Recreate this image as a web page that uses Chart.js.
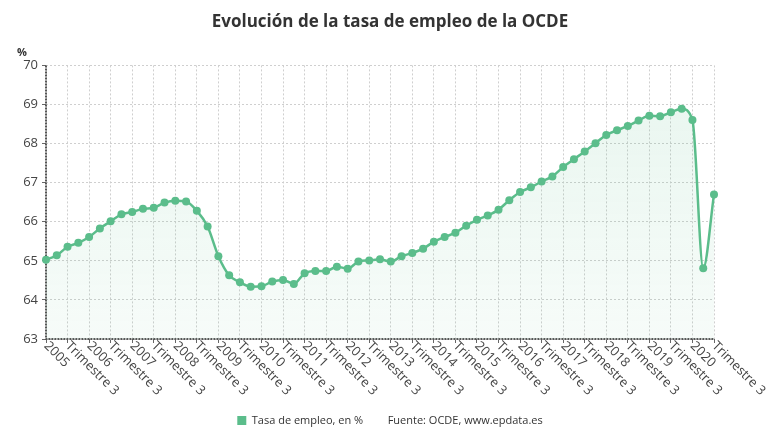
<!DOCTYPE html>
<html>
<head>
<meta charset="utf-8">
<script src="https://cdn.jsdelivr.net/npm/chart.js@4/dist/chart.umd.min.js"></script>
<style>
  html, body { margin: 0; padding: 0; background: #fff; }
  #wrap { width: 780px; height: 440px; }
</style>
</head>
<body>
<div id="wrap"><canvas id="c" width="780" height="440"></canvas></div>
<script>
// ---- Data ----
const years = ['2005','2006','2007','2008','2009','2010','2011','2012','2013','2014','2015','2016','2017','2018','2019','2020'];
const quarters = ['T1','T2','T3','T4'];
// Tasa de empleo OCDE (%), trimestral 2005 T1 - 2020 T3
const tasaEmpleo = [
  65.03, 65.14, 65.36, 65.46,   // 2005
  65.61, 65.83, 66.01, 66.19,   // 2006
  66.25, 66.33, 66.36, 66.49,   // 2007
  66.54, 66.52, 66.28, 65.88,   // 2008
  65.12, 64.63, 64.45, 64.34,   // 2009
  64.35, 64.47, 64.51, 64.41,   // 2010
  64.68, 64.74, 64.74, 64.85,   // 2011
  64.80, 64.98, 65.01, 65.04,   // 2012
  64.98, 65.12, 65.20, 65.31,   // 2013
  65.49, 65.61, 65.72, 65.90,   // 2014
  66.05, 66.16, 66.31, 66.55,   // 2015
  66.76, 66.88, 67.03, 67.16,   // 2016
  67.40, 67.60, 67.80, 68.01,   // 2017
  68.22, 68.34, 68.45, 68.59,   // 2018
  68.71, 68.70, 68.80, 68.89,   // 2019
  68.60, 64.81, 66.70           // 2020
];
const yTicks = [63, 64, 65, 66, 67, 68, 69, 70];
const thirdQuarterLabel = 'Trimestre 3';
const titleText = 'Evolución de la tasa de empleo de la OCDE';
const seriesName = 'Tasa de empleo, en %';
const sourceText = 'Fuente: OCDE, www.epdata.es';
const unitLabel = '%';

const categories = [];
years.forEach(y => quarters.forEach(q => categories.push(y + ' ' + q)));
categories.length = tasaEmpleo.length;
function tickLabel(i) {
  const q = i % 4;
  if (q === 0) return categories[i].split(' ')[0];
  if (q === 2) return thirdQuarterLabel;
  return '';
}

// ---- Styles ----
const green = '#5bbd8b';
const FONT = '"Open Sans", "Noto Sans", sans-serif';

const customPlugin = {
  id: 'custom',
  beforeDatasetsDraw(chart) {
    const {ctx, chartArea} = chart;
    ctx.save();
    ctx.strokeStyle = '#555';
    ctx.lineWidth = 2;
    ctx.setLineDash([2, 1]);
    ctx.beginPath();
    ctx.moveTo(chartArea.left, chartArea.top);
    ctx.lineTo(chartArea.left, chartArea.bottom);
    ctx.lineTo(chartArea.right, chartArea.bottom);
    ctx.stroke();
    ctx.restore();
  },
  afterDraw(chart) {
    const {ctx, chartArea, scales} = chart;
    const x = scales.x;
    ctx.save();
    ctx.font = '13px ' + FONT;
    ctx.fillStyle = '#444';
    ctx.textAlign = 'left';
    ctx.textBaseline = 'middle';
    categories.forEach((c, i) => {
      const t = tickLabel(i);
      if (!t) return;
      const px = x.getPixelForValue(i);
      ctx.save();
      ctx.translate(px, chartArea.bottom + 5);
      ctx.rotate(Math.PI / 4);
      ctx.fillText(t, 0, 0);
      ctx.restore();
    });
    ctx.font = 'bold 11px ' + FONT;
    ctx.fillStyle = '#333';
    ctx.textAlign = 'center';
    ctx.fillText(unitLabel, 22, chartArea.top - 13);
    ctx.restore();
  }
};

new Chart(document.getElementById('c'), {
  type: 'line',
  data: {
    labels: categories,
    datasets: [{
      label: seriesName,
      data: tasaEmpleo,
      borderColor: green,
      borderWidth: 2.5,
      pointRadius: 4,
      pointBorderWidth: 0,
      pointBackgroundColor: green,
      pointHoverRadius: 4,
      tension: 0.4,
      cubicInterpolationMode: 'monotone',
      fill: 'start',
      clip: false,
      backgroundColor: (context) => {
        const {chart} = context;
        const ca = chart.chartArea;
        if (!ca) return 'rgba(91,189,139,0.08)';
        const g = chart.ctx.createLinearGradient(0, ca.top, 0, ca.bottom);
        g.addColorStop(0, 'rgba(91,189,139,0.14)');
        g.addColorStop(1, 'rgba(91,189,139,0.05)');
        return g;
      }
    }]
  },
  options: {
    responsive: false,
    animation: false,
    devicePixelRatio: 1,
    layout: { padding: { left: 0, right: 0, top: 0, bottom: 4 } },
    plugins: {
      title: {
        display: true,
        text: titleText,
        color: '#333',
        font: { family: FONT, size: 17, weight: 'bold' },
        padding: { top: 12, bottom: 33 }
      },
      legend: {
        position: 'bottom',
        onClick: () => {},
        labels: {
          color: '#333',
          font: { family: FONT, size: 11 },
          boxWidth: 9,
          boxHeight: 9,
          padding: 10,
          generateLabels: () => [
            { text: seriesName, fillStyle: green, strokeStyle: green, lineWidth: 0, hidden: false, datasetIndex: 0, fontColor: '#333' },
            { text: sourceText, fillStyle: 'rgba(0,0,0,0)', strokeStyle: 'rgba(0,0,0,0)', lineWidth: 0, hidden: false, fontColor: '#333' }
          ]
        }
      },
      tooltip: { enabled: false }
    },
    scales: {
      x: {
        type: 'category',
        offset: false,
        ticks: { display: false },
        border: { display: false, dash: [2, 2] },
        grid: {
          color: (c) => (c.index % 2 === 0 ? '#cfcfcf' : 'rgba(0,0,0,0)'),
          tickColor: (c) => (c.index % 2 === 0 ? '#666' : 'rgba(0,0,0,0)'),
          tickLength: 4,
          tickBorderDash: [],
          lineWidth: 1
        },
        afterFit: (s) => { s.height = 66; s.paddingRight = 66; }
      },
      y: {
        min: 63,
        max: 70,
        afterBuildTicks: (s) => { s.ticks = yTicks.map(v => ({ value: v })); },
        ticks: {
          color: '#444',
          font: { family: FONT, size: 13 },
          padding: 4,
          callback: (v) => v
        },
        border: { display: false, dash: [2, 2] },
        grid: {
          color: '#cfcfcf',
          tickColor: '#666',
          tickLength: 4,
          tickBorderDash: [],
          lineWidth: 1
        },
        afterFit: (s) => { s.width = 46; }
      }
    }
  },
  plugins: [customPlugin]
});
</script>
</body>
</html>
